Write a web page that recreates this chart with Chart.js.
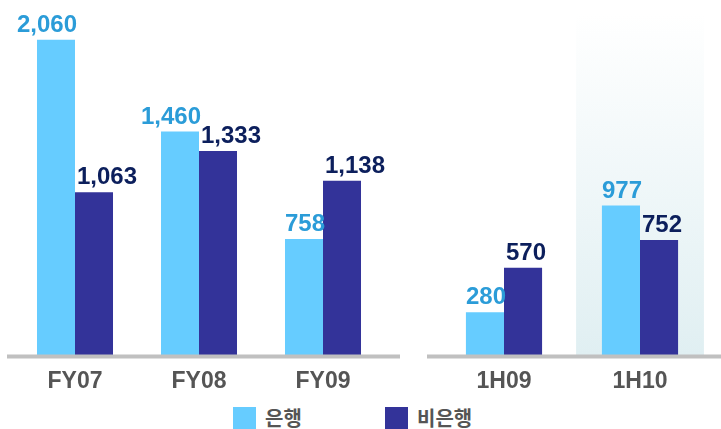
<!DOCTYPE html>
<html>
<head>
<meta charset="utf-8">
<script src="https://cdn.jsdelivr.net/npm/chart.js@4.4.1/dist/chart.umd.min.js"></script>
<style>
  body { margin: 0; background: #fff; width: 721px; height: 429px; overflow: hidden; position: relative; }
  #left { position: absolute; left: 7px; top: 0; width: 393px; height: 400px; }
  #right { position: absolute; left: 427px; top: 0; width: 294px; height: 400px; }
  .legend { position: absolute; top: 407px; height: 22px; font: bold 20px "Noto Sans CJK KR", sans-serif; color: #555; line-height: 22px; }
  .legend span.box { display: inline-block; width: 23px; height: 22px; vertical-align: top; margin-right: 9px; }
</style>
</head>
<body>
<div id="left"><canvas id="chartLeft"></canvas></div>
<div id="right"><canvas id="chartRight"></canvas></div>
<div class="legend" style="left:233px"><span class="box" style="background:#66ccff"></span>은행</div>
<div class="legend" style="left:385px"><span class="box" style="background:#333399"></span>비은행</div>
<script>
// data
var yearLabels = ['FY07', 'FY08', 'FY09'];
var bankYear = [2060, 1460, 758];
var nonBankYear = [1063, 1333, 1138];

var halfLabels = ['1H09', '1H10'];
var bankHalf = [280, 977];
var nonBankHalf = [570, 752];

var seriesNames = ['은행', '비은행'];
var barColors = ['#66ccff', '#333399'];
var labelColors = ['#2b9cd8', '#0c1f5c'];

// value labels sit on the shared edge of the pair, pushed outward
var valueLabels = {
  id: 'valueLabels',
  afterDatasetsDraw: function (chart) {
    var ctx = chart.ctx;
    ctx.save();
    ctx.font = 'bold 24px "Liberation Sans", Arial, sans-serif';
    ctx.textBaseline = 'alphabetic';
    chart.data.datasets.forEach(function (ds, i) {
      var meta = chart.getDatasetMeta(i);
      ctx.fillStyle = labelColors[i];
      meta.data.forEach(function (bar, j) {
        var txt = ds.data[j].toLocaleString('en-US');
        if (i === 0) {
          ctx.textAlign = 'right';
          ctx.fillText(txt, bar.x + bar.width / 2 + 2, bar.y - 8);
        } else {
          ctx.textAlign = 'left';
          ctx.fillText(txt, bar.x - bar.width / 2 + 2, bar.y - 8);
        }
      });
    });
    ctx.restore();
  }
};

// grey baseline across the whole canvas
var baseLine = {
  id: 'baseLine',
  afterDatasetsDraw: function (chart) {
    var ctx = chart.ctx;
    var y = chart.chartArea.bottom + 1.5;
    ctx.save();
    ctx.strokeStyle = '#c0c0c0';
    ctx.lineWidth = 4;
    ctx.beginPath();
    ctx.moveTo(0, y);
    ctx.lineTo(chart.width, y);
    ctx.stroke();
    ctx.restore();
  }
};

// light gradient panel behind the latest half year
var highlight = {
  id: 'highlight',
  beforeDatasetsDraw: function (chart) {
    var xs = chart.scales.x;
    var idx = chart.data.labels.length - 1;
    var cx = xs.getPixelForTick(idx);
    var w = (xs.right - xs.left) / chart.data.labels.length * 0.94;
    var top = chart.chartArea.top + 13;
    var bottom = chart.chartArea.bottom;
    var ctx = chart.ctx;
    var g = ctx.createLinearGradient(0, top, 0, bottom);
    g.addColorStop(0, 'rgba(255,255,255,1)');
    g.addColorStop(1, '#e0eff2');
    ctx.save();
    ctx.fillStyle = g;
    ctx.fillRect(cx - w / 2, top, w, bottom - top);
    ctx.restore();
  }
};

function makeChart(id, labels, bank, nonBank, pad, barPct, plugins) {
  return new Chart(document.getElementById(id), {
    type: 'bar',
    data: {
      labels: labels,
      datasets: [
        { label: seriesNames[0], data: bank, backgroundColor: barColors[0] },
        { label: seriesNames[1], data: nonBank, backgroundColor: barColors[1] }
      ]
    },
    options: {
      responsive: true,
      maintainAspectRatio: false,
      animation: false,
      layout: { padding: pad },
      categoryPercentage: barPct,
      barPercentage: 1,
      plugins: { legend: { display: false }, tooltip: { enabled: false } },
      scales: {
        x: {
          grid: { display: false, drawTicks: false },
          border: { display: false },
          ticks: { color: '#555', font: { family: '"Liberation Sans", Arial, sans-serif', size: 23, weight: 'bold' }, padding: 13 },
          afterFit: function (s) { s.height = 45; }
        },
        y: { display: false, min: 0, max: 2320 }
      }
    },
    plugins: plugins
  });
}

makeChart('chartLeft', yearLabels, bankYear, nonBankYear, { left: 6, right: 15, top: 0, bottom: 0 }, 0.613, [baseLine, valueLabels]);
makeChart('chartRight', halfLabels, bankHalf, nonBankHalf, { left: 9, right: 13, top: 0, bottom: 0 }, 0.56, [highlight, baseLine, valueLabels]);
</script>
</body>
</html>
